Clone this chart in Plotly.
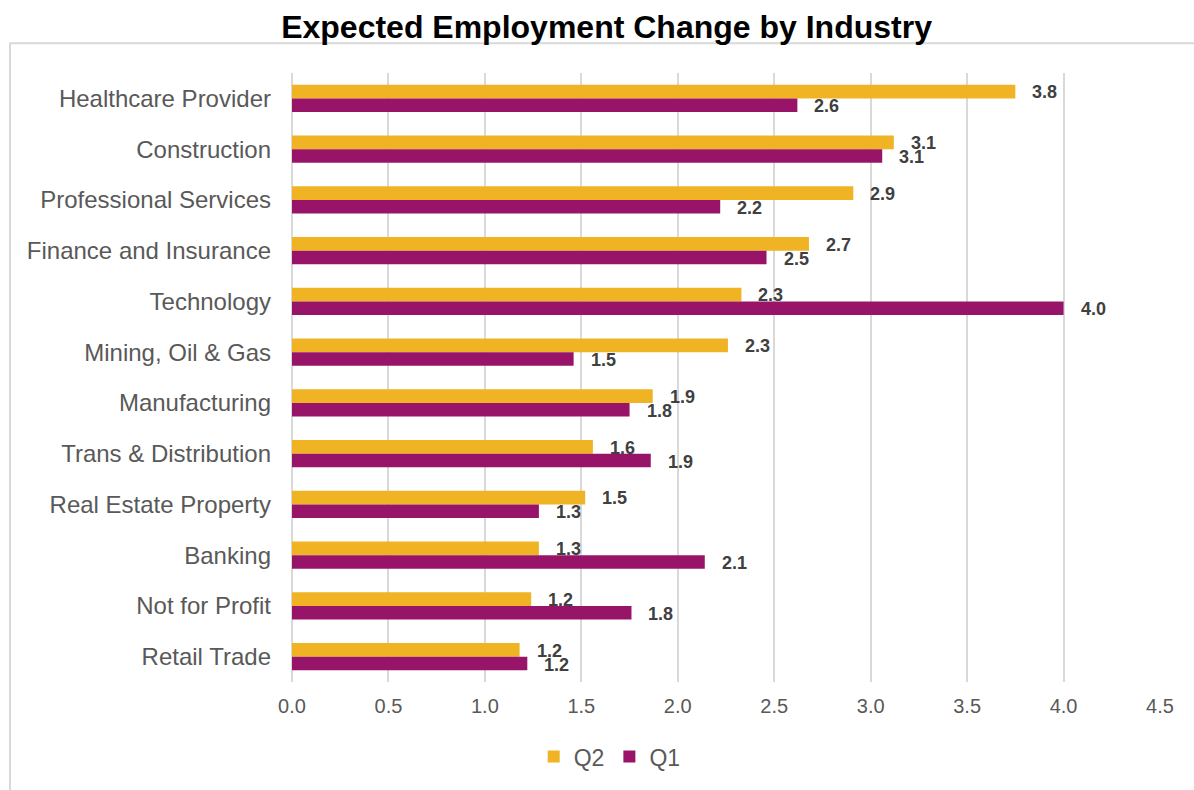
import plotly.graph_objects as go

# Industries, top to bottom
industries = [
    "Healthcare Provider", "Construction", "Professional Services",
    "Finance and Insurance", "Technology", "Mining, Oil & Gas",
    "Manufacturing", "Trans & Distribution", "Real Estate Property",
    "Banking", "Not for Profit", "Retail Trade",
]
q2_values = [3.75, 3.12, 2.91, 2.68, 2.33, 2.26, 1.87, 1.56, 1.52, 1.28, 1.24, 1.18]
q1_values = [2.62, 3.06, 2.22, 2.46, 4.00, 1.46, 1.75, 1.86, 1.28, 2.14, 1.76, 1.22]
x_ticks = [0, 0.5, 1.0, 1.5, 2.0, 2.5, 3.0, 3.5, 4.0, 4.5]

GOLD = "#F0B323"
PURPLE = "#981468"
FONT = "Liberation Sans, Arial, sans-serif"

fig = go.Figure()
fig.add_trace(go.Bar(name="Q2", y=industries, x=q2_values, orientation="h",
                     marker=dict(color=GOLD, line=dict(width=0))))
fig.add_trace(go.Bar(name="Q1", y=industries, x=q1_values, orientation="h",
                     marker=dict(color=PURPLE, line=dict(width=0))))

# Value labels just past the end of each bar
annotations = []
for series, shift in ((q2_values, 6), (q1_values, -8)):
    for cat, val in zip(industries, series):
        annotations.append(dict(
            x=val, y=cat, xref="x", yref="y", text=f"<b>{val:.1f}</b>",
            showarrow=False, xanchor="left", yanchor="middle",
            xshift=15, yshift=shift,
            font=dict(family=FONT, size=18, color="#404040"),
        ))

fig.update_layout(
    width=1194, height=790,
    margin=dict(l=292, r=34, t=73, b=105),
    paper_bgcolor="white", plot_bgcolor="white",
    barmode="group", bargap=0.46, bargroupgap=0,
    font=dict(family=FONT, color="#595959"),
    title=dict(text="<b>Expected Employment Change by Industry</b>",
               x=0.508, xanchor="center", y=1 - 27 / 790, yanchor="middle",
               yref="container",
               font=dict(family=FONT, size=32, color="#000000")),
    xaxis=dict(range=[0, 4.5], tickvals=x_ticks,
               ticktext=[f"{t:.1f}" for t in x_ticks],
               showgrid=True, gridcolor="#d9d9d9", gridwidth=1.5,
               zeroline=True, zerolinecolor="#d9d9d9", zerolinewidth=1.5,
               showline=False, ticks="", ticklabelstandoff=10,
               tickfont=dict(family=FONT, size=20, color="#595959")),
    yaxis=dict(autorange="reversed", showgrid=False, zeroline=False,
               showline=False, ticks="", ticklabelstandoff=20,
               tickfont=dict(family=FONT, size=24, color="#595959")),
    legend=dict(orientation="h", x=0.366, xanchor="center",
                y=-0.1225, yanchor="middle", traceorder="normal",
                font=dict(family=FONT, size=23, color="#595959"),
                itemwidth=30, itemsizing="constant"),
    annotations=annotations,
    shapes=[dict(type="rect", xref="paper", yref="paper",
                 x0=-0.3249, x1=1.06, y0=-0.2, y1=1.049,
                 line=dict(color="#d9d9d9", width=2), layer="below")],
)

fig.write_html("out.html")
